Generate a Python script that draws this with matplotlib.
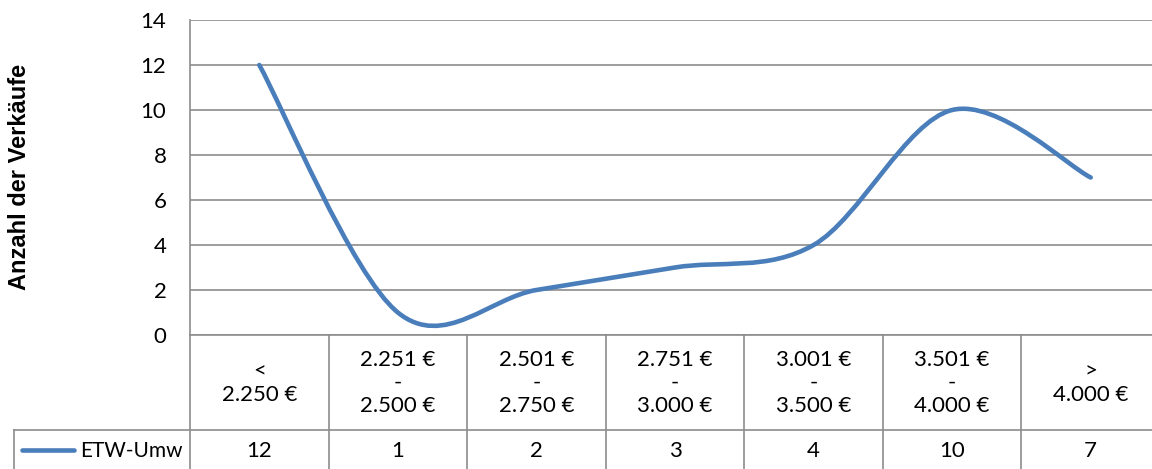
import matplotlib
matplotlib.use("Agg")
import matplotlib.pyplot as plt
import matplotlib.transforms as mtransforms
from matplotlib.lines import Line2D
from matplotlib.path import Path
from matplotlib.patches import PathPatch

# data
categories = ["<\n2.250 €", "2.251 €\n-\n2.500 €", "2.501 €\n-\n2.750 €",
              "2.751 €\n-\n3.000 €", "3.001 €\n-\n3.500 €",
              "3.501 €\n-\n4.000 €", ">\n4.000 €"]
values = [12, 1, 2, 3, 4, 10, 7]
series_name = "ETW-Umw"
y_label = "Anzahl der Verkäufe"

W, H = 1152, 469
BLUE = "#4A7EBB"
GRID = "#8C8C8C"
FONT = "Lato"

plt.rcParams["font.family"] = [FONT, "DejaVu Sans"]


def fy(px):
    # pixel row from top -> figure fraction
    return 1 - px / H


def _smooth_path(xs, ys):
    # Excel style smoothed line: cubic bezier through every point
    pts = list(zip(xs, ys))
    n = len(pts)
    verts = [pts[0]]
    codes = [Path.MOVETO]
    for i in range(n - 1):
        p0 = pts[max(i - 1, 0)]
        p1 = pts[i]
        p2 = pts[i + 1]
        p3 = pts[min(i + 2, n - 1)]
        c1 = (p1[0] + (p2[0] - p0[0]) / 6, p1[1] + (p2[1] - p0[1]) / 6)
        c2 = (p2[0] - (p3[0] - p1[0]) / 6, p2[1] - (p3[1] - p1[1]) / 6)
        verts += [c1, c2, p2]
        codes += [Path.CURVE4] * 3
    return Path(verts, codes)


fig = plt.figure(figsize=(W / 100, H / 100), dpi=100)
ax = fig.add_axes([190 / W, fy(335), 970 / W, (335 - 20) / H])

x = list(range(len(values)))
patch = PathPatch(_smooth_path(x, values), fill=False, edgecolor=BLUE,
                  lw=3.3, capstyle="round", joinstyle="round", zorder=3)
ax.add_patch(patch)

ax.set_xlim(-0.5, len(values) - 0.5)
ax.set_ylim(0, 14)
ax.set_yticks(range(0, 15, 2))
ax.set_xticks([])
ax.yaxis.grid(True, color=GRID, lw=1.2)
ax.set_axisbelow(True)
ax.tick_params(axis="y", length=0, pad=17, labelsize=16, colors="black")
for s in ["top", "right"]:
    ax.spines[s].set_visible(False)
for s in ["left", "bottom"]:
    ax.spines[s].set_color(GRID)
    ax.spines[s].set_linewidth(1.2)

fig.text(20 / W, fy(177), y_label, rotation=90, ha="center", va="center",
         fontsize=17, fontweight="bold", family="Liberation Sans")

# data table below the axes
blend = mtransforms.blended_transform_factory(ax.transData, fig.transFigure)
for i in range(len(values) + 1):
    fig.add_artist(Line2D([i - 0.5, i - 0.5], [fy(335), 0], color=GRID,
                          lw=1.2, transform=blend))
fig.add_artist(Line2D([14 / W, 1], [fy(430), fy(430)], color=GRID, lw=1.2,
                      transform=fig.transFigure))
fig.add_artist(Line2D([14 / W, 14 / W], [fy(430), 0], color=GRID, lw=1.2,
                      transform=fig.transFigure))

for i, (cat, v) in enumerate(zip(categories, values)):
    ax.text(i, fy(383), cat, transform=blend, ha="center", va="center",
            fontsize=16, linespacing=1.2)
    ax.text(i, fy(451), str(v), transform=blend, ha="center", va="center",
            fontsize=16)

# legend key in the table
fig.add_artist(Line2D([22 / W, 74 / W], [fy(450), fy(450)], color=BLUE,
                      lw=3.3, solid_capstyle="round",
                      transform=fig.transFigure))
fig.text(80 / W, fy(451), series_name, ha="left", va="center", fontsize=15)

fig.savefig("out.png", dpi=100)
